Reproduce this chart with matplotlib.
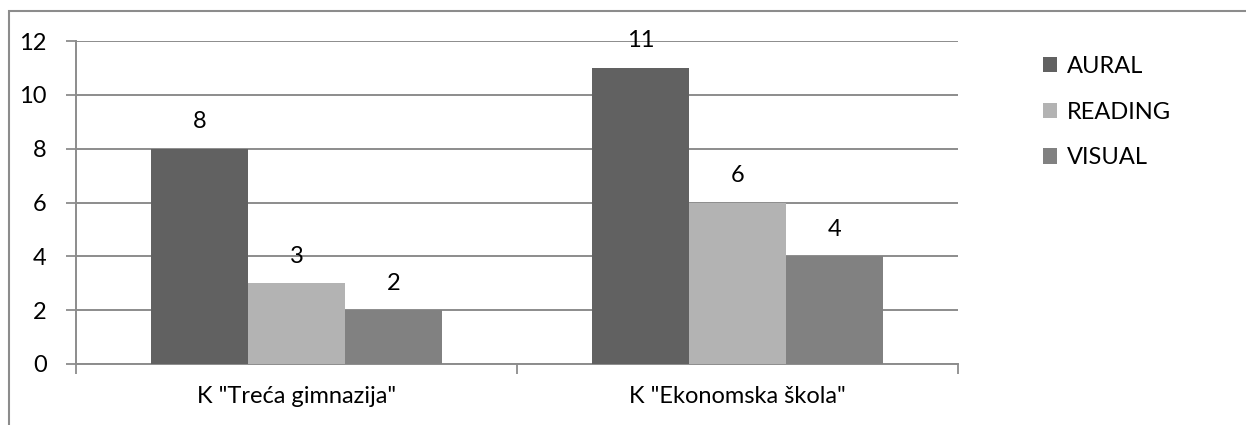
import matplotlib
matplotlib.use("Agg")
import matplotlib.pyplot as plt
from matplotlib.patches import Rectangle
import numpy as np

categories = ['K "Treća gimnazija"', 'K "Ekonomska škola"']
series = ["AURAL", "READING", "VISUAL"]
aural = [8, 11]
reading = [3, 6]
visual = [2, 4]
colors = ["#616161", "#b3b3b3", "#818181"]

plt.rcParams["font.family"] = ["Lato", "DejaVu Sans"]
FS = 17

W, H = 1246, 425
fig = plt.figure(figsize=(W / 100, H / 100), dpi=100)
ax = fig.add_axes([76 / W, 1 - 364 / H, (958 - 76) / W, (364 - 41) / H])

x = np.arange(len(categories))
bw = 0.22
for i, (name, vals) in enumerate(zip(series, [aural, reading, visual])):
    bars = ax.bar(x + (i - 1) * bw, vals, bw, color=colors[i], label=name, zorder=3)
    for b, v in zip(bars, vals):
        ax.annotate(str(v), (b.get_x() + b.get_width() / 2, v), xytext=(0, 12),
                    textcoords="offset points", ha="center", va="bottom", fontsize=FS)

ax.set_xlim(-0.5, 1.5)
ax.set_ylim(0, 12)
ax.set_yticks(range(0, 13, 2))
ax.set_xticks([-0.5, 0.5, 1.5], minor=False)
ax.set_xticklabels([])
ax.set_xticks(x, minor=True)
ax.set_xticklabels(categories, minor=True)
ax.tick_params(axis="x", which="minor", length=0, pad=16, labelsize=FS)
ax.tick_params(axis="x", which="major", length=7, width=1.3, color="#8c8c8c", direction="out")
ax.tick_params(axis="y", length=7, width=1.3, color="#8c8c8c", labelsize=FS, pad=14)
ax.grid(axis="y", color="#8c8c8c", linewidth=1.4, zorder=0)
for s in ["top", "right"]:
    ax.spines[s].set_visible(False)
for s in ["left", "bottom"]:
    ax.spines[s].set_color("#8c8c8c")
    ax.spines[s].set_linewidth(1.4)

leg = ax.legend(loc="upper left", bbox_to_anchor=(1.072, 1.02), frameon=False,
                fontsize=FS, handlelength=0.62, handleheight=0.62, handletextpad=0.4,
                labelspacing=1.05)

# outer chart frame
fig.patches.append(Rectangle((9 / W, -0.1), 1.2, 1 - 11 / H + 0.1, transform=fig.transFigure,
                             fill=False, edgecolor="#8c8c8c", linewidth=1.5))

fig.savefig("out.png", dpi=100)
